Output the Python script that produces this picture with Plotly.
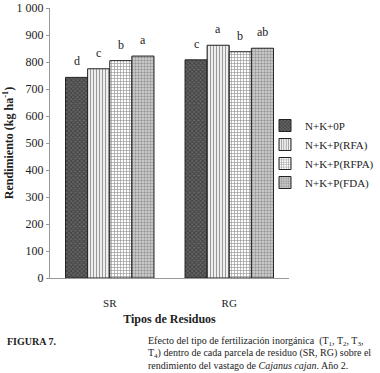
import plotly.graph_objects as go

categories = ["SR", "RG"]
series_names = ["N+K+0P", "N+K+P(RFA)", "N+K+P(RFPA)", "N+K+P(FDA)"]
values = {
    "N+K+0P": [743, 808],
    "N+K+P(RFA)": [775, 862],
    "N+K+P(RFPA)": [805, 838],
    "N+K+P(FDA)": [822, 851],
}
letters = {
    "N+K+0P": ["d", "c"],
    "N+K+P(RFA)": ["c", "a"],
    "N+K+P(RFPA)": ["b", "b"],
    "N+K+P(FDA)": ["a", "ab"],
}
tick_vals = [0, 100, 200, 300, 400, 500, 600, 700, 800, 900, 1000]
tick_text = ["0", "100", "200", "300", "400", "500", "600", "700", "800", "900", "1 000"]

styles = {
    "N+K+0P": dict(shape="x", fgcolor="#1a1a1a", bgcolor="#666666", size=3, solidity=0.5),
    "N+K+P(RFA)": dict(shape="|", fgcolor="#333333", bgcolor="#ffffff", size=3, solidity=0.45),
    "N+K+P(RFPA)": dict(shape="+", fgcolor="#333333", bgcolor="#ffffff", size=3, solidity=0.4),
    "N+K+P(FDA)": dict(shape=".", fgcolor="#555555", bgcolor="#d8d8d8", size=3, solidity=0.5),
}

font_family = "Liberation Serif, Times New Roman, serif"
W, H = 380, 373
ML, MR, MT, MB = 50, 91, 8, 95
bargap = 0.26
plot_w = W - ML - MR
plot_h = H - MT - MB
bar_px = plot_w / len(categories) * (1 - bargap) / len(series_names)

fig = go.Figure()
for i, name in enumerate(series_names):
    fig.add_trace(go.Bar(
        x=categories, y=values[name], name=name,
        marker=dict(color="#ffffff", pattern=styles[name],
                    line=dict(color="#222222", width=1)),
    ))
    for cat, v, lab in zip(categories, values[name], letters[name]):
        fig.add_annotation(x=cat, y=v, text=lab, showarrow=False,
                           xshift=(i - (len(series_names) - 1) / 2) * bar_px,
                           yshift=7, yanchor="bottom",
                           font=dict(family=font_family, size=12, color="#222"))

fig.update_layout(
    width=W, height=H,
    margin=dict(l=ML, r=MR, t=MT, b=MB, autoexpand=False),
    barmode="group", bargap=bargap, bargroupgap=0,
    plot_bgcolor="white", paper_bgcolor="white",
    font=dict(family=font_family, size=11, color="#222"),
    showlegend=True,
    legend=dict(x=(265 - ML) / plot_w, xanchor="left", y=1 - (111 - MT) / plot_h, yanchor="top",
                font=dict(family=font_family, size=11, color="#222"),
                tracegroupgap=0, itemwidth=30, bgcolor="rgba(0,0,0,0)"),
    xaxis=dict(showline=True, linecolor="#999", linewidth=1, ticks="",
               automargin=False, ticklabelstandoff=15,
               tickfont=dict(family=font_family, size=11),
               title=dict(text="<b>Tipos de Residuos</b>", standoff=6,
                          font=dict(family=font_family, size=12))),
    yaxis=dict(range=[0, 1000], tickvals=tick_vals, ticktext=tick_text,
               automargin=False,
               showline=True, linecolor="#999", linewidth=1,
               ticks="outside", ticklen=3, tickcolor="#999",
               showgrid=False, zeroline=False,
               tickfont=dict(family=font_family, size=12),
               title=dict(text="<b>Rendimiento (kg ha<sup>-1</sup>)</b>", standoff=0,
                          font=dict(family=font_family, size=12))),
)

cap_font = dict(family=font_family, size=10, color="#222")
def py(ypix):
    return -(ypix - (H - MB)) / plot_h

fig.add_annotation(xref="paper", yref="paper", x=(5 - ML) / plot_w, y=py(341),
                   xanchor="left", yanchor="middle",
                   text="<b>FIGURA 7.</b>", showarrow=False, font=cap_font)
caption_lines = [
    "Efecto del tipo de fertilización inorgánica  (T<sub>1</sub>, T<sub>2</sub>, T<sub>3</sub>,",
    "T<sub>4</sub>) dentro de cada parcela de residuo (SR, RG) sobre el",
    "rendimiento del vastago de <i>Cajanus cajan</i>. Año 2.",
]
for k, line in enumerate(caption_lines):
    fig.add_annotation(xref="paper", yref="paper", x=(146 - ML) / plot_w, y=py(341 + 12 * k),
                       xanchor="left", yanchor="middle", showarrow=False,
                       text=line, font=cap_font)

fig.write_html("out.html", config={"displayModeBar": False},
               post_script="document.body.style.margin='0';")
